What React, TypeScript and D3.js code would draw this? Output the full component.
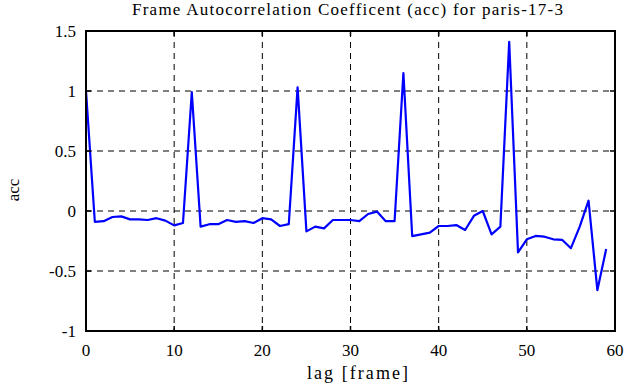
import * as d3 from "d3";
import { useRef, useEffect } from "react";

// lag in frames, 0..59
const lags = d3.range(0, 60);
const acc = [
  1.0, -0.09, -0.085, -0.05, -0.045, -0.07, -0.07, -0.075, -0.06, -0.08,
  -0.12, -0.1, 0.99, -0.13, -0.11, -0.11, -0.075, -0.09, -0.085, -0.1,
  -0.06, -0.07, -0.125, -0.11, 1.03, -0.17, -0.13, -0.145, -0.075, -0.075,
  -0.075, -0.085, -0.025, -0.005, -0.085, -0.085, 1.15, -0.21, -0.195, -0.18,
  -0.125, -0.125, -0.117, -0.158, -0.04, 0.0, -0.195, -0.13, 1.41, -0.345,
  -0.236, -0.208, -0.214, -0.236, -0.24, -0.31, -0.13, 0.086, -0.66, -0.317,
];
const xTicks = [0, 10, 20, 30, 40, 50, 60];
const yTicks = [-1, -0.5, 0, 0.5, 1, 1.5];
const title = "Frame Autocorrelation Coefficent (acc) for paris-17-3";

const App = () => {
  const width = 625;
  const height = 387;
  const marginLeft = 86;
  const marginRight = 10;
  const marginTop = 31;
  const marginBottom = 56;
  const font = "'Liberation Serif', 'DejaVu Serif', serif";

  const x = d3.scaleLinear([0, 60], [marginLeft, width - marginRight]);
  const y = d3.scaleLinear([-1, 1.5], [height - marginBottom, marginTop]);
  const line = d3.line<number>((d, i) => x(lags[i]), (d) => y(d));

  const gGrid = useRef<SVGGElement>(null);

  useEffect(() => {
    const g = d3.select(gGrid.current);
    g.selectAll("*").remove();
    // dashed grid
    g.selectAll("line.vx")
      .data(xTicks.slice(1, -1))
      .join("line")
      .attr("x1", (d) => x(d))
      .attr("x2", (d) => x(d))
      .attr("y1", y(1.5))
      .attr("y2", y(-1))
      .attr("stroke", "black")
      .attr("stroke-width", 1)
      .attr("stroke-dasharray", "6,5");
    g.selectAll("line.hy")
      .data(yTicks.slice(1, -1))
      .join("line")
      .attr("x1", x(0))
      .attr("x2", x(60))
      .attr("y1", (d) => y(d))
      .attr("y2", (d) => y(d))
      .attr("stroke", "black")
      .attr("stroke-width", 1)
      .attr("stroke-dasharray", "6,5");
  }, []);

  const tl = 5;

  return (
    <svg
      width={width}
      height={height}
      style={{ position: "absolute", left: 0, top: 0, background: "white" }}
      fontFamily={font}
    >
      <rect width={width} height={height} fill="white" />
      <g ref={gGrid} />
      <path d={line(acc) ?? ""} fill="none" stroke="#0000ff" strokeWidth={2.2} strokeLinejoin="round" />
      {/* ticks, inward on all sides */}
      {xTicks.map((t) => (
        <g key={"xt" + t} stroke="black" strokeWidth={1.5}>
          <line x1={x(t)} x2={x(t)} y1={y(-1)} y2={y(-1) - tl} />
          <line x1={x(t)} x2={x(t)} y1={y(1.5)} y2={y(1.5) + tl} />
        </g>
      ))}
      {yTicks.map((t) => (
        <g key={"yt" + t} stroke="black" strokeWidth={1.5}>
          <line x1={x(0)} x2={x(0) + tl} y1={y(t)} y2={y(t)} />
          <line x1={x(60)} x2={x(60) - tl} y1={y(t)} y2={y(t)} />
        </g>
      ))}
      <rect
        x={x(0)}
        y={y(1.5)}
        width={x(60) - x(0)}
        height={y(-1) - y(1.5)}
        fill="none"
        stroke="black"
        strokeWidth={2}
      />
      {xTicks.map((t) => (
        <text key={"xl" + t} x={x(t)} y={y(-1) + 25} textAnchor="middle" fontSize={17}>
          {t}
        </text>
      ))}
      {yTicks.map((t) => (
        <text key={"yl" + t} x={x(0) - 10} y={y(t) + 6} textAnchor="end" fontSize={17}>
          {t}
        </text>
      ))}
      <text x={307} y={379} fontSize={18} textLength={101} lengthAdjust="spacing">
        lag [frame]
      </text>
      <text
        transform={`translate(19,${(y(1.5) + y(-1)) / 2 + 9}) rotate(-90)`}
        textAnchor="middle"
        fontSize={17}
      >
        acc
      </text>
      <text x={132} y={15} fontSize={17} textLength={431} lengthAdjust="spacing">
        {title}
      </text>
    </svg>
  );
};

export default App;
